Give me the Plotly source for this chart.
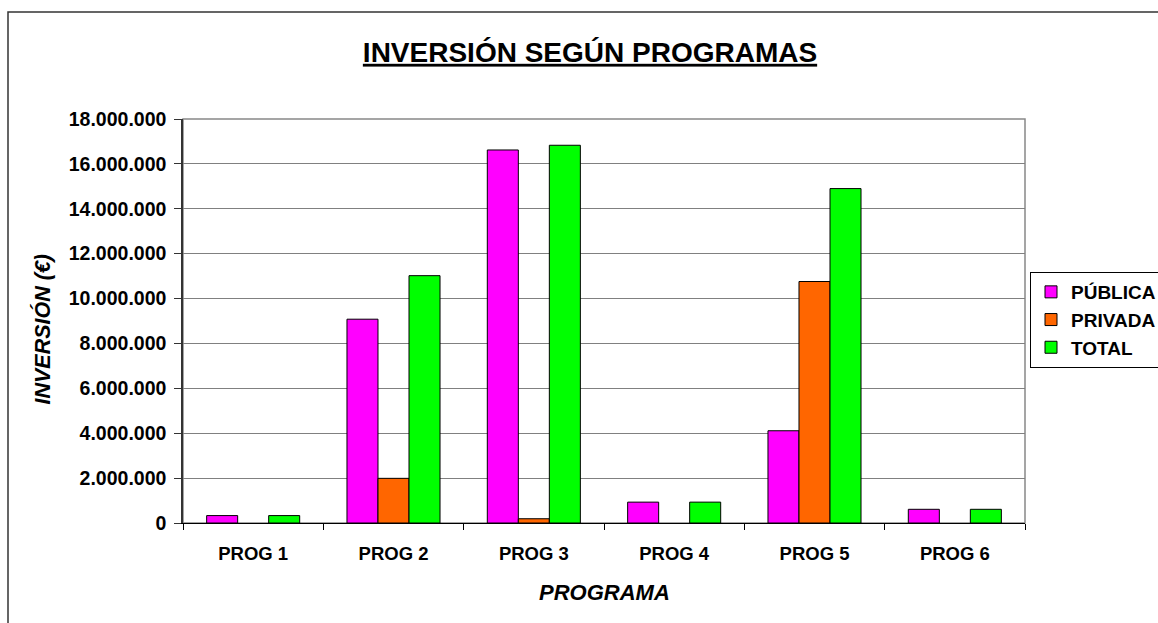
import plotly.graph_objects as go

categories = ["PROG 1", "PROG 2", "PROG 3", "PROG 4", "PROG 5", "PROG 6"]
publica = [330000, 9080000, 16620000, 930000, 4110000, 610000]
privada = [None, 1990000, 190000, None, 10760000, None]
total = [330000, 11020000, 16830000, 930000, 14900000, 610000]
series_names = ["PÚBLICA", "PRIVADA", "TOTAL"]
series_colors = ["#FF00FF", "#FF6600", "#00FF00"]

W, H = 1158, 623
L, R, T, B = 183, 133, 119, 100
PW, PH = W - L - R, H - T - B

def px_x(px):
    return (px - L) / PW

def px_y(py):
    return (H - B - py) / PH

FONT = "Liberation Sans, Arial, sans-serif"

fig = go.Figure()
for name, vals, col in zip(series_names, [publica, privada, total], series_colors):
    fig.add_trace(go.Bar(
        x=categories, y=vals, name=name,
        marker=dict(color=col, line=dict(color="black", width=1)),
    ))

fig.update_layout(
    width=W, height=H,
    margin=dict(l=L, r=R, t=T, b=B, autoexpand=False),
    paper_bgcolor="white", plot_bgcolor="white",
    barmode="group", bargap=0.337, bargroupgap=0,
    separators=",.",
    font=dict(family=FONT, color="black"),
    showlegend=True,
    title=dict(
        text="INVERSIÓN SEGÚN PROGRAMAS",
        x=590 / W, y=1 - 52 / H, xref="container", yref="container",
        xanchor="center", yanchor="middle",
        font=dict(family=FONT, size=28, weight="bold", lineposition="under", color="black"),
    ),
    legend=dict(
        x=px_x(1030), y=px_y(272), xanchor="left", yanchor="top",
        bordercolor="black", borderwidth=1, bgcolor="white",
        font=dict(family=FONT, size=19, weight="bold", color="black"),
        tracegroupgap=0,
    ),
    xaxis=dict(
        showgrid=False, showline=True, linecolor="black", linewidth=1,
        ticks="outside", ticklen=6, tickcolor="black", tickson="boundaries",
        tickfont=dict(family=FONT, size=18.5, weight="bold", color="black"),
        ticklabelstandoff=14,
    ),
    yaxis=dict(
        range=[0, 18000000], dtick=2000000, tickformat=",",
        showgrid=True, gridcolor="#808080", gridwidth=1,
        showline=True, linecolor="#333333", linewidth=1.5,
        ticks="outside", ticklen=7, tickcolor="#333333",
        tickfont=dict(family=FONT, size=19.5, weight="bold", color="black"),
        ticklabelstandoff=4,
        zeroline=False,
    ),
    shapes=[
        dict(type="rect", xref="paper", yref="paper", x0=0, x1=1, y0=0, y1=1,
             line=dict(color="#888888", width=1.5), layer="below"),
        dict(type="rect", xref="paper", yref="paper",
             x0=px_x(8), x1=px_x(1200), y0=px_y(660), y1=px_y(12),
             line=dict(color="#333333", width=1.5)),
    ],
    annotations=[
        dict(text="<b><i>INVERSIÓN (€)</i></b>", xref="paper", yref="paper",
             x=px_x(41.5), y=px_y(329), showarrow=False, textangle=-90,
             xanchor="center", yanchor="middle",
             font=dict(family=FONT, size=21.5, color="black")),
        dict(text="<b><i>PROGRAMA</i></b>", xref="paper", yref="paper",
             x=px_x(604), y=px_y(592.5), showarrow=False,
             xanchor="center", yanchor="middle",
             font=dict(family=FONT, size=22, color="black")),
    ],
)

fig.write_html(
    "out.html",
    config={"displayModeBar": False},
    post_script="document.body.style.margin='0';document.body.style.overflow='hidden';",
)
